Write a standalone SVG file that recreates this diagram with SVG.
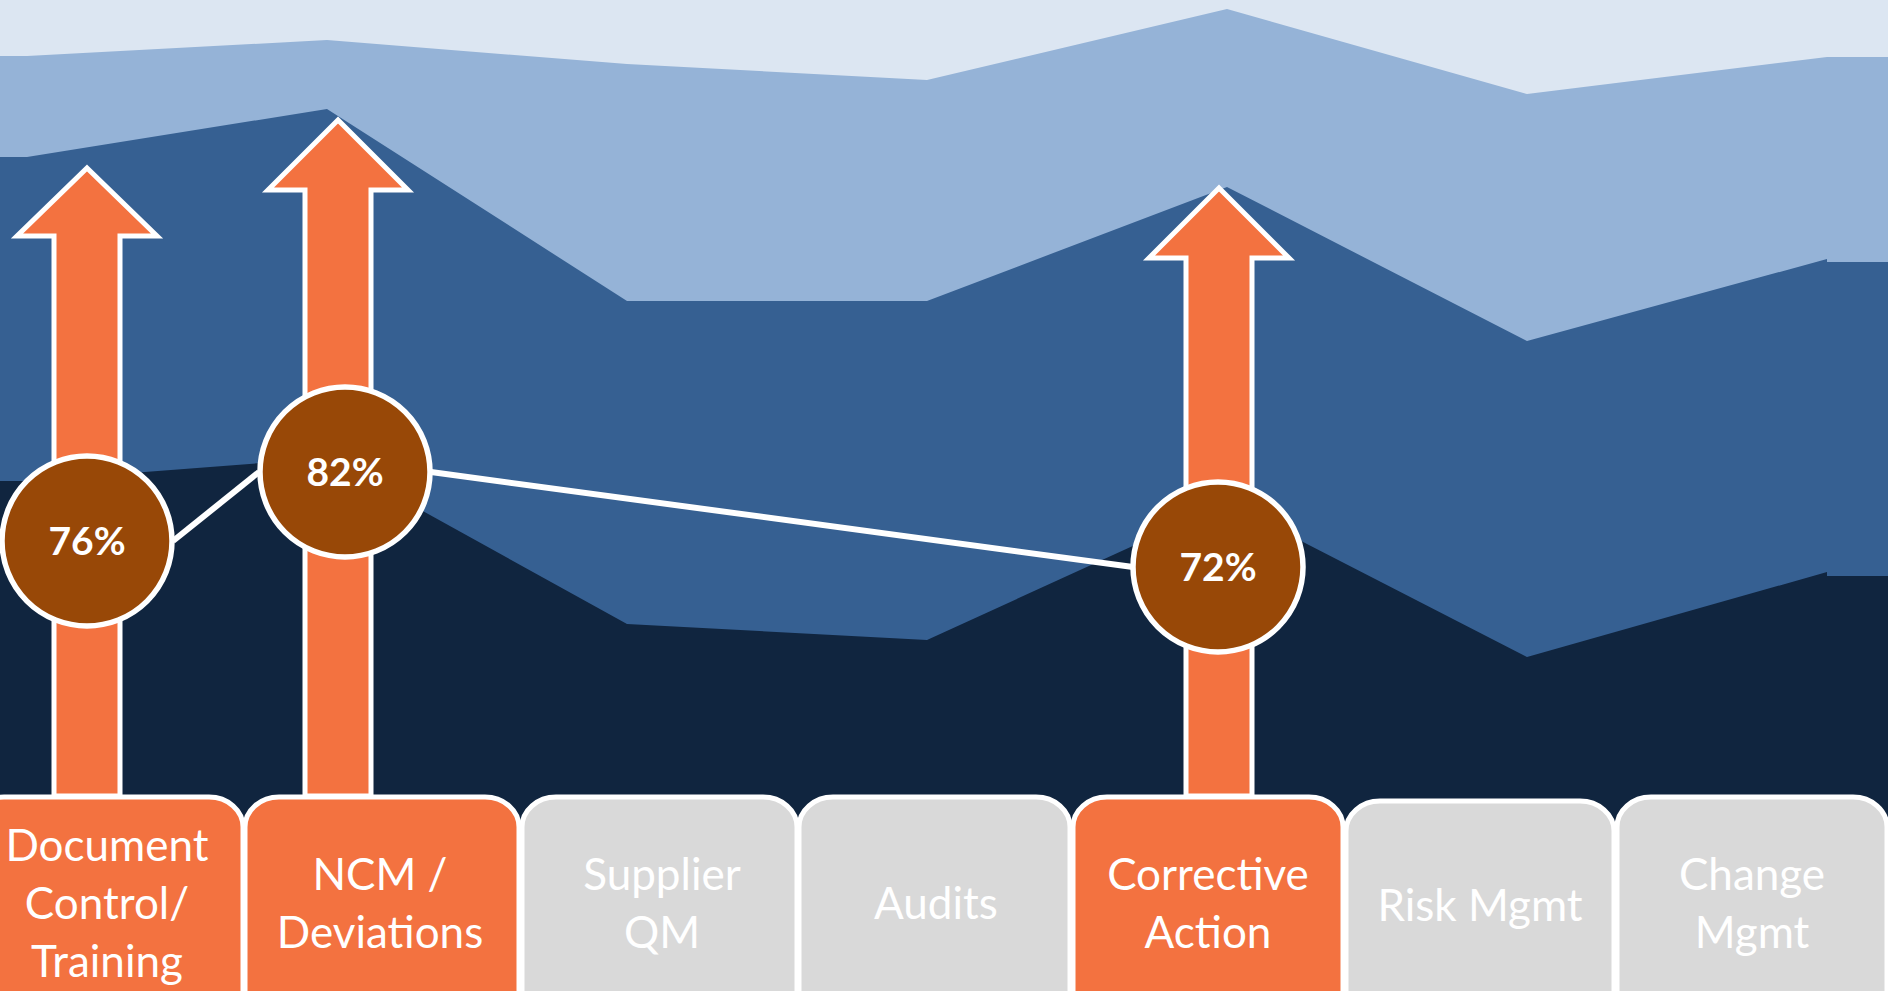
<svg xmlns="http://www.w3.org/2000/svg" width="1888" height="991" viewBox="0 0 1888 991">
<defs>
<style>
.arrow{fill:#F37240;stroke:#FFFFFF;stroke-width:5;stroke-linejoin:miter}
.tab-on{fill:#F37240;stroke:#FFFFFF;stroke-width:5}
.tab-off{fill:#D9D9D9;stroke:#FFFFFF;stroke-width:5}
.tabtxt{font-family:Lato,"Open Sans","Liberation Sans",sans-serif;font-size:44px;fill:#FFFFFF;text-anchor:middle}
.circ{fill:#984807;stroke:#FFFFFF;stroke-width:5.5}
.pct{font-family:Lato,"Open Sans","Liberation Sans",sans-serif;font-size:39px;font-weight:700;fill:#FFFFFF;text-anchor:middle}
.conn{stroke:#FFFFFF;stroke-width:6;fill:none}
</style>
</defs>
<g id="background">
<rect x="0" y="0" width="1888" height="991" fill="#DCE6F2"/>
<polygon fill="#95B3D7" points="0,56 27,56 327,40 627,64 927,80 1227,9 1527,94 1827,57 1888,57 1888,991 0,991"/>
<polygon fill="#366092" points="0,157 27,157 327,109 627,301 927,301 1227,187 1527,341 1827,259 1827,262 1888,262 1888,991 0,991"/>
<polygon fill="#10253F" points="0,481 27,481 327,458 627,624 927,640 1227,503 1527,657 1827,572 1827,576 1888,576 1888,991 0,991"/>
</g>
<g id="arrows">
<path id="arrow-doc" class="arrow" d="M87,168 L157,236 L120,236 L120,796 L54,796 L54,236 L17,236 Z"/>
<path id="arrow-ncm" class="arrow" d="M338,120 L408,190 L371,190 L371,796 L305,796 L305,190 L268,190 Z"/>
<path id="arrow-ca" class="arrow" d="M1219,188 L1289,258 L1252,258 L1252,796 L1186,796 L1186,258 L1149,258 Z"/>
</g>
<g id="connectors">
<line class="conn" x1="173" y1="541" x2="259" y2="472"/>
<line class="conn" x1="431" y1="472" x2="1133" y2="567"/>
</g>
<g id="node-76">
<circle class="circ" cx="87" cy="541" r="85"/>
<text class="pct" x="87" y="555">76%</text>
</g>
<g id="node-82">
<circle class="circ" cx="345" cy="472" r="85"/>
<text class="pct" x="345" y="486">82%</text>
</g>
<g id="node-72">
<circle class="circ" cx="1218" cy="567" r="85"/>
<text class="pct" x="1218" y="581">72%</text>
</g>
<g id="tab-document">
<rect class="tab-on" x="-30" y="797" width="273" height="260" rx="34" ry="30"/>
<text class="tabtxt" x="107" y="861">Document</text>
<text class="tabtxt" x="107" y="919">Control/</text>
<text class="tabtxt" x="107" y="977">Training</text>
</g>
<g id="tab-ncm">
<rect class="tab-on" x="245" y="797" width="274" height="260" rx="34" ry="30"/>
<text class="tabtxt" x="380" y="890">NCM /</text>
<text class="tabtxt" x="380" y="948">Deviations</text>
</g>
<g id="tab-supplier">
<rect class="tab-off" x="522" y="797" width="275" height="260" rx="34" ry="30"/>
<text class="tabtxt" x="662" y="890">Supplier</text>
<text class="tabtxt" x="662" y="948">QM</text>
</g>
<g id="tab-audits">
<rect class="tab-off" x="799" y="797" width="271" height="260" rx="34" ry="30"/>
<text class="tabtxt" x="936" y="919">Audits</text>
</g>
<g id="tab-corrective">
<rect class="tab-on" x="1073" y="797" width="270" height="260" rx="34" ry="30"/>
<text class="tabtxt" x="1208" y="890">Corrective</text>
<text class="tabtxt" x="1208" y="948">Action</text>
</g>
<g id="tab-risk">
<rect class="tab-off" x="1346" y="801" width="268" height="260" rx="34" ry="30"/>
<text class="tabtxt" x="1480" y="921">Risk Mgmt</text>
</g>
<g id="tab-change">
<rect class="tab-off" x="1617" y="797" width="270" height="260" rx="34" ry="30"/>
<text class="tabtxt" x="1752" y="890">Change</text>
<text class="tabtxt" x="1752" y="948">Mgmt</text>
</g>
</svg>
